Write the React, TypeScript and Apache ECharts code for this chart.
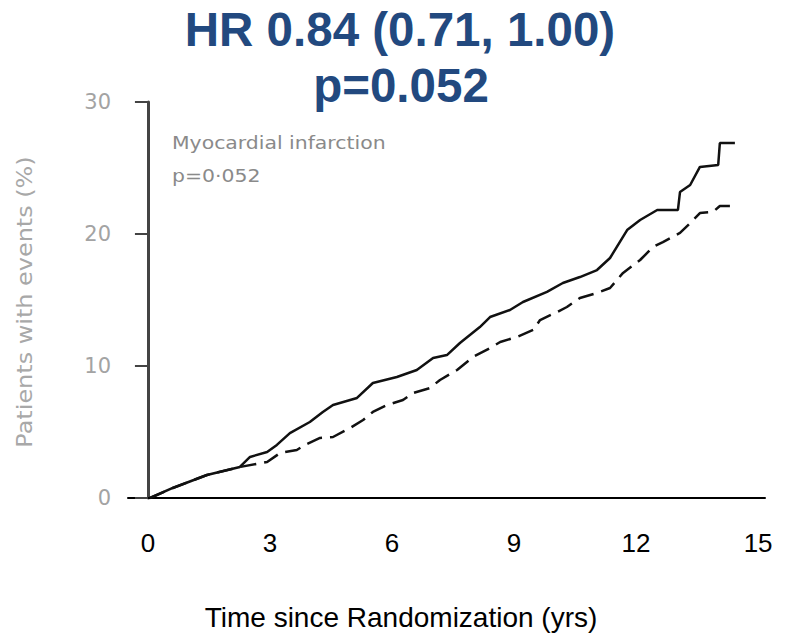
import React, { useEffect, useRef } from "react";
import * as echarts from "echarts";

const titleLines = ["HR 0.84 (0.71, 1.00)", "p=0.052"];
const xAxisTitle = "Time since Randomization (yrs)";
const yAxisTitle = "Patients with events (%)";
const annotationLines = ["Myocardial infarction", "p=0·052"];

const xTickLabels = [0, 3, 6, 9, 12, 15];
const yTickLabels = [0, 10, 20, 30];

// Corner points (years, %)
const solidTimes = [
  0.05, 0.61, 1.45, 2.26, 2.51, 2.93, 3.17, 3.49, 3.98, 4.3, 4.55, 5.14, 5.53,
  6.12, 6.61, 7.01, 7.35, 7.67, 8.16, 8.41, 8.9, 9.22, 9.81, 10.2, 10.62, 11.04,
  11.36, 11.78, 12.1, 12.52, 13.03, 13.08, 13.33, 13.57, 14.02, 14.06, 14.43,
];
const solidValues = [
  0, 0.76, 1.74, 2.35, 3.11, 3.48, 4.02, 4.92, 5.76, 6.52, 7.05, 7.58, 8.71,
  9.17, 9.7, 10.61, 10.83, 11.74, 12.95, 13.71, 14.24, 14.85, 15.61, 16.29,
  16.74, 17.27, 18.18, 20.3, 21.06, 21.82, 21.82, 23.18, 23.71, 25.08, 25.23,
  26.89, 26.89,
];

// Corner points (years, %)
const dashedTimes = [
  0.05, 0.61, 1.45, 2.26, 2.93, 3.25, 3.66, 3.86, 4.23, 4.55, 4.97, 5.29, 5.53,
  5.88, 6.27, 6.52, 6.93, 7.18, 7.6, 7.99, 8.41, 8.66, 9.07, 9.47, 9.64, 10.06,
  10.3, 10.62, 11.04, 11.36, 11.68, 12.1, 12.42, 12.66, 13.08, 13.33, 13.57,
  13.89, 14.06, 14.43,
];
const dashedValues = [
  0, 0.76, 1.74, 2.35, 2.73, 3.41, 3.64, 4.02, 4.55, 4.62, 5.3, 5.91, 6.52,
  7.05, 7.42, 7.95, 8.33, 8.94, 9.7, 10.68, 11.36, 11.82, 12.2, 12.73, 13.48,
  14.09, 14.47, 15.15, 15.53, 15.91, 17.05, 18.03, 19.02, 19.39, 20.08, 20.83,
  21.59, 21.67, 22.12, 22.12,
];

export default function App() {
  const ref = useRef<HTMLDivElement>(null);

  useEffect(() => {
    if (!ref.current) return;
    const chart = echarts.init(ref.current, null, { renderer: "svg" });
    const solidData = solidTimes.map((t, i) => [t, solidValues[i]]);
    const dashedData = dashedTimes.map((t, i) => [t, dashedValues[i]]);
    const titleFont = "bold 47.5px 'Liberation Sans', Arial, sans-serif";

    chart.setOption({
      animation: false,
      backgroundColor: "#ffffff",
      grid: { left: 128, right: 25, top: 102, bottom: 138 },
      xAxis: {
        type: "value",
        min: -0.49,
        max: 15.17,
        splitLine: { show: false },
        axisLine: { show: true, onZero: true, lineStyle: { color: "#000", width: 2 } },
        axisTick: { show: false },
        axisLabel: {
          customValues: xTickLabels,
          fontFamily: "Liberation Sans, Arial, sans-serif",
          fontSize: 26,
          color: "#000",
          margin: 32,
        },
      },
      yAxis: {
        type: "value",
        min: 0,
        max: 30,
        interval: 10,
        splitLine: { show: false },
        axisLine: { show: true, lineStyle: { color: "#444", width: 3 } },
        axisTick: {
          show: true,
          customValues: yTickLabels,
          length: 13,
          lineStyle: { color: "#444", width: 2 },
        },
        axisLabel: {
          customValues: yTickLabels,
          fontFamily: "DejaVu Sans, sans-serif",
          fontSize: 21,
          color: "#a3a3a3",
          margin: 17,
        },
      },
      graphic: [
        {
          type: "text",
          x: 400,
          y: 29,
          style: {
            text: titleLines[0],
            font: titleFont,
            fill: "#22497f",
            align: "center",
            verticalAlign: "middle",
          },
        },
        {
          type: "text",
          x: 401,
          y: 85,
          style: {
            text: titleLines[1],
            font: titleFont,
            fill: "#22497f",
            align: "center",
            verticalAlign: "middle",
          },
        },
        {
          type: "text",
          x: 401,
          y: 617,
          style: {
            text: xAxisTitle,
            font: "28px 'Liberation Sans', Arial, sans-serif",
            fill: "#000",
            align: "center",
            verticalAlign: "middle",
          },
        },
        {
          type: "text",
          x: 25,
          y: 302,
          rotation: Math.PI / 2,
          scaleX: 1.14,
          style: {
            text: yAxisTitle,
            font: "21px 'DejaVu Sans', sans-serif",
            fill: "#a8a8a8",
            align: "center",
            verticalAlign: "middle",
          },
        },
        {
          type: "text",
          x: 172,
          y: 143,
          scaleX: 1.2,
          style: {
            text: annotationLines[0],
            font: "17px 'DejaVu Sans', sans-serif",
            fill: "#8a8a8a",
            align: "left",
            verticalAlign: "middle",
          },
        },
        {
          type: "text",
          x: 172,
          y: 176,
          scaleX: 1.2,
          style: {
            text: annotationLines[1],
            font: "17px 'DejaVu Sans', sans-serif",
            fill: "#8a8a8a",
            align: "left",
            verticalAlign: "middle",
          },
        },
      ],
      series: [
        {
          name: "Solid line",
          type: "line",
          data: solidData,
          showSymbol: false,
          lineStyle: { color: "#111", width: 2.5 },
        },
        {
          name: "Dashed line",
          type: "line",
          data: dashedData,
          showSymbol: false,
          lineStyle: { color: "#111", width: 2.5, type: [16, 8] },
        },
      ],
    });
    return () => chart.dispose();
  }, []);

  return (
    <div
      ref={ref}
      style={{ position: "fixed", left: 0, top: 0, width: 790, height: 636, background: "#fff" }}
    />
  );
}
